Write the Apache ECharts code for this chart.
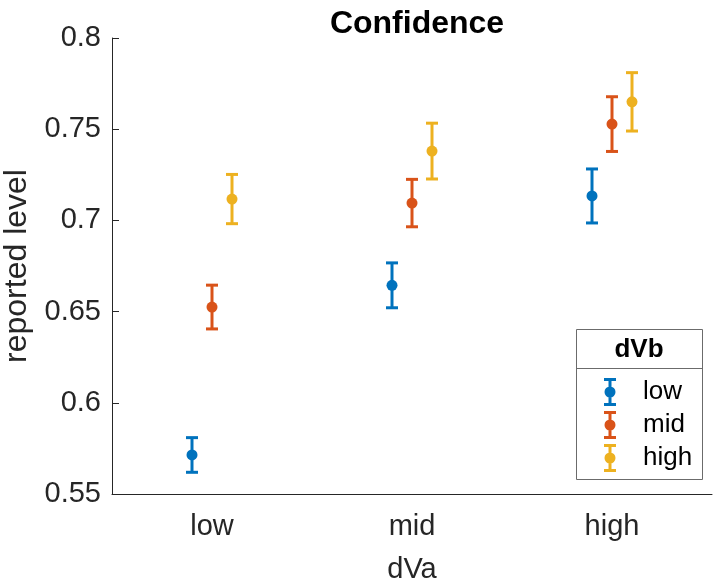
<!DOCTYPE html>
<html>
<head>
<meta charset="utf-8">
<script src="https://cdn.jsdelivr.net/npm/echarts@6/dist/echarts.min.js"></script>
<style>
  html, body { margin: 0; padding: 0; background: #fff; }
  #main { width: 720px; height: 582px; }
</style>
</head>
<body>
<div id="main"></div>
<script>
// dVa 分组 (x 轴)
const categories = ['low', 'mid', 'high'];
// dVb 分组 (图例)
const groups = ['low', 'mid', 'high'];
// 各组均值
const lowMean = [0.5714, 0.6644, 0.7134];
const midMean = [0.6525, 0.7095, 0.7528];
const highMean = [0.7117, 0.7380, 0.7650];
// 误差范围 (±)
const lowErr = [0.0095, 0.0123, 0.0148];
const midErr = [0.0120, 0.0130, 0.0150];
const highErr = [0.0135, 0.0153, 0.0160];
// y 轴刻度
const yTicks = ['0.55', '0.6', '0.65', '0.7', '0.75', '0.8'];

const colors = ['#0072BD', '#D95319', '#EDB120'];
const dodge = [-0.1, 0, 0.1];
const font = '"Liberation Sans", Arial, Helvetica, sans-serif';
const axisColor = '#262626';
// 图例图标: 误差棒 + 圆点
const iconPath = 'path://M0,0H12V3H0Z M0,25H12V28H0Z M4.5,0H7.5V28H4.5Z M11.5,14A5.5,5.5 0 1 1 0.5,14A5.5,5.5 0 1 1 11.5,14Z';

function buildData(means, errs, k) {
  return means.map((m, i) => [i + 1 + dodge[k], m, errs[i]]);
}

// 画误差棒和圆点
function renderErr(params, api) {
  const x = api.value(0), m = api.value(1), e = api.value(2);
  const c = api.coord([x, m]);
  const top = api.coord([x, m + e]);
  const bot = api.coord([x, m - e]);
  const color = api.visual('color');
  const cap = 6;
  const st = { stroke: color, lineWidth: 3 };
  return {
    type: 'group',
    children: [
      { type: 'line', shape: { x1: top[0], y1: top[1], x2: bot[0], y2: bot[1] }, style: st },
      { type: 'line', shape: { x1: top[0] - cap, y1: top[1], x2: top[0] + cap, y2: top[1] }, style: st },
      { type: 'line', shape: { x1: bot[0] - cap, y1: bot[1], x2: bot[0] + cap, y2: bot[1] }, style: st },
      { type: 'circle', shape: { cx: c[0], cy: c[1], r: 5.5 }, style: { fill: color } }
    ]
  };
}

const allMeans = [lowMean, midMean, highMean];
const allErrs = [lowErr, midErr, highErr];

const chart = echarts.init(document.getElementById('main'));
const option = {
  animation: false,
  textStyle: { fontFamily: font },
  title: {
    text: 'Confidence',
    left: 412,
    top: 3,
    textAlign: 'center',
    textStyle: { fontFamily: font, fontSize: 32, fontWeight: 'bold', color: '#000' }
  },
  grid: { left: 112, right: 8, top: 38, bottom: 88, outerBoundsMode: 'none' },
  xAxis: [
    {
      type: 'category',
      data: categories,
      boundaryGap: true,
      name: 'dVa',
      nameLocation: 'middle',
      nameGap: 61,
      nameTextStyle: { fontFamily: font, fontSize: 29, color: axisColor },
      axisLine: { lineStyle: { color: axisColor, width: 1 } },
      axisTick: { inside: true, length: 7, alignWithLabel: true, lineStyle: { color: axisColor } },
      axisLabel: { fontFamily: font, fontSize: 29, color: axisColor, margin: 18 },
      splitLine: { show: false }
    },
    {
      type: 'value',
      min: 0.5,
      max: 3.5,
      show: false
    }
  ],
  yAxis: {
    type: 'value',
    min: 0.55,
    max: 0.8,
    interval: 0.05,
    name: 'reported level',
    nameLocation: 'middle',
    nameGap: 75,
    nameTextStyle: { fontFamily: font, fontSize: 32, color: axisColor },
    axisLine: { show: true, lineStyle: { color: axisColor, width: 1 } },
    axisTick: { show: true, inside: true, length: 7, lineStyle: { color: axisColor } },
    axisLabel: {
      fontFamily: font, fontSize: 29, color: axisColor, margin: 11,
      formatter: (v) => yTicks[Math.round((v - 0.55) / 0.05)]
    },
    splitLine: { show: false }
  },
  legend: {
    orient: 'vertical',
    left: 604,
    top: 378,
    padding: 0,
    itemWidth: 12,
    itemHeight: 28,
    itemGap: 5,
    z: 10,
    data: groups.map((g) => ({ name: g, icon: iconPath })),
    textStyle: { fontFamily: font, fontSize: 26, color: '#000', padding: [0, 0, 0, 22] }
  },
  graphic: [
    {
      type: 'rect',
      z: 5,
      shape: { x: 576.5, y: 329.5, width: 126, height: 150 },
      style: { fill: '#fff', stroke: '#6b6b6b', lineWidth: 1 }
    },
    {
      type: 'line',
      z: 6,
      shape: { x1: 576.5, y1: 368.5, x2: 702.5, y2: 368.5 },
      style: { stroke: '#6b6b6b', lineWidth: 1 }
    },
    {
      type: 'text',
      z: 6,
      x: 639,
      y: 350,
      style: {
        text: 'dVb',
        font: 'bold 26px ' + font,
        fill: '#000',
        align: 'center',
        verticalAlign: 'middle'
      }
    }
  ],
  series: groups.map((g, k) => ({
    name: g,
    type: 'custom',
    xAxisIndex: 1,
    yAxisIndex: 0,
    itemStyle: { color: colors[k] },
    renderItem: renderErr,
    encode: { x: 0, y: 1 },
    clip: false,
    data: buildData(allMeans[k], allErrs[k], k)
  }))
};
chart.setOption(option);
</script>
</body>
</html>
